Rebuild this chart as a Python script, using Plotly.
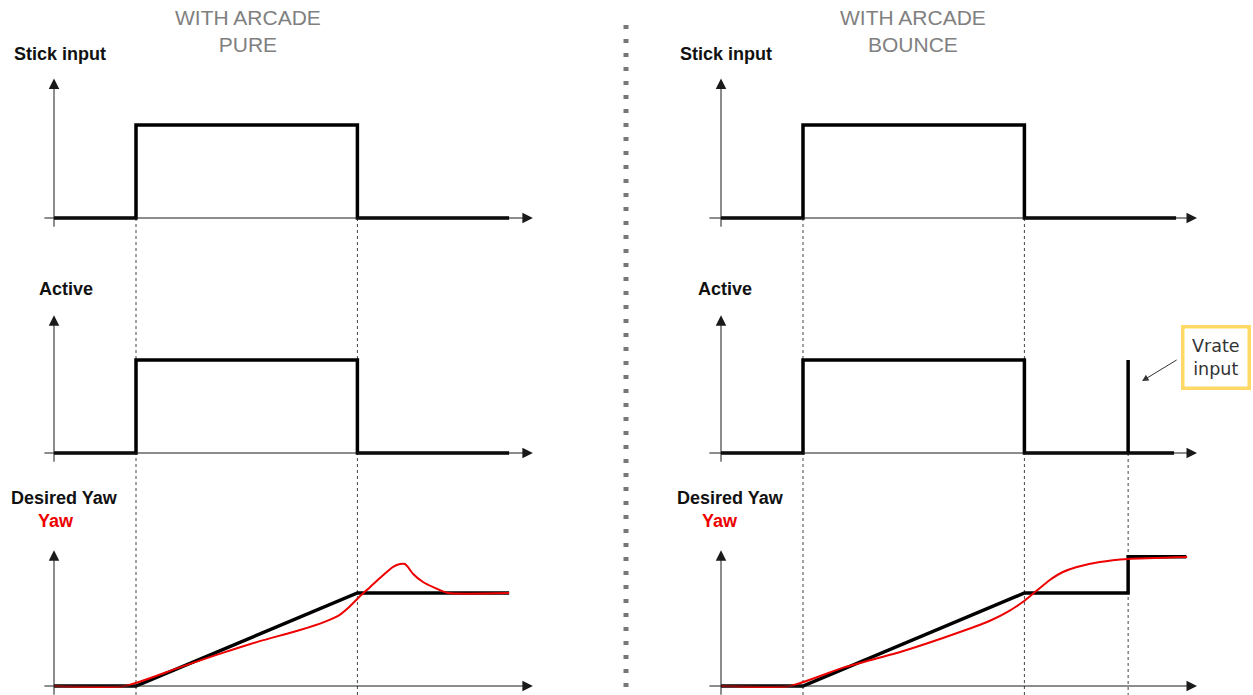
# Arcade yaw diagram: stick input / active / desired yaw, pure vs bounce

import plotly.graph_objects as go

# ---- data (time in arbitrary units, signal values normalised) ----

stick_t = [0.0, 2.0, 2.0, 7.4, 7.4, 11.1]
stick_v = [0, 0, 1, 1, 0, 0]

active_pure_t = [0.0, 2.0, 2.0, 7.4, 7.4, 11.1]
active_pure_v = [0, 0, 1, 1, 0, 0]

active_bounce_t = [0.0, 2.0, 2.0, 7.4, 7.4, 9.93, 9.93, 9.93, 11.05]
active_bounce_v = [0, 0, 1, 1, 0, 0, 1, 0, 0]

desired_pure_t = [0.0, 2.0, 7.4, 11.1]
desired_pure_v = [0, 0, 1, 1]

yaw_pure_t = [0.0, 1.73, 3.0, 4.0, 5.0, 6.0, 6.6, 6.95, 7.2, 7.45, 7.7, 7.95, 8.27, 8.44,
              8.56, 8.63, 8.76, 9.0, 9.24, 9.61, 11.1]
yaw_pure_v = [0, 0, 0.19, 0.34, 0.48, 0.602, 0.69, 0.76, 0.85, 0.96, 1.06, 1.161, 1.28,
              1.312, 1.312, 1.28, 1.204, 1.118, 1.065, 1.0, 1.0]

desired_bounce_t = [0.0, 2.0, 7.4, 9.93, 9.93, 11.35]
desired_bounce_v = [0, 0, 1, 1, 1.39, 1.39]

yaw_bounce_t = [0.0, 1.68, 3.0, 4.37, 5.83, 6.6, 7.0, 7.35, 7.66, 8.02, 8.34, 8.68,
                9.24, 9.93, 11.37]
yaw_bounce_v = [0, 0, 0.2, 0.366, 0.581, 0.71, 0.8, 0.9, 1.011, 1.14, 1.226, 1.28,
                1.333, 1.366, 1.387]

event_times_pure = [2.0, 7.4]
event_times_bounce = [2.0, 7.4]
vrate_time = 9.93

col_titles = ['WITH ARCADE<br>PURE', 'WITH ARCADE<br>BOUNCE']
row_labels = ['Stick input', 'Active', 'Desired Yaw']

# ---- page geometry ----

W, H = 1253, 695
PX_T = 41.0                 # pixels per time unit
PX_V = 93.0                 # pixels per value unit
COL_X0 = [54, 721]          # pixel of time origin per column
ROW_Y0 = [218, 453, 686]    # pixel of zero line per row
T_RANGE = [-0.6, 12.3]
V_RANGE = [-0.095, 1.75]

X_AXIS_START = [-0.27, -0.32]
X_AXIS_END = [11.68, 11.61]
Y_AXIS_TOP = [1.5, 1.48, 1.46]
Y_AXIS_BOTTOM = -0.11


def xdom(col):
    x0 = COL_X0[col]
    return [(x0 + T_RANGE[0] * PX_T) / W, (x0 + T_RANGE[1] * PX_T) / W]


def ydom(row):
    y0 = ROW_Y0[row]
    bottom = y0 - V_RANGE[0] * PX_V
    top = y0 - V_RANGE[1] * PX_V
    return [1 - bottom / H, 1 - top / H]


def px(x):
    return x / W


def py(y):
    return 1 - y / H


def names(row, col):
    k = row * 2 + col + 1
    s = '' if k == 1 else str(k)
    return 'x' + s, 'y' + s, 'xaxis' + s, 'yaxis' + s


fig = go.Figure()
layout_axes = {}
annotations = []
shapes = []

for row in range(3):
    for col in range(2):
        xn, yn, xa, ya = names(row, col)
        layout_axes[xa] = dict(domain=xdom(col), range=T_RANGE, visible=False,
                               fixedrange=True, anchor=yn)
        layout_axes[ya] = dict(domain=ydom(row), range=V_RANGE, visible=False,
                               fixedrange=True, anchor=xn)
        # x axis arrow
        annotations.append(dict(
            x=X_AXIS_END[col], y=0, ax=X_AXIS_START[col], ay=0,
            xref=xn, yref=yn, axref=xn, ayref=yn, text='', showarrow=True,
            arrowhead=2, arrowsize=2.1, arrowwidth=1, arrowcolor='#1a1a1a'))
        # y axis arrow
        annotations.append(dict(
            x=0, y=Y_AXIS_TOP[row], ax=0, ay=Y_AXIS_BOTTOM,
            xref=xn, yref=yn, axref=xn, ayref=yn, text='', showarrow=True,
            arrowhead=2, arrowsize=2.1, arrowwidth=1, arrowcolor='#1a1a1a'))

fig.update_layout(**layout_axes)

black = dict(color='black', width=3.5)
red = dict(color='#ee0000', width=2, shape='spline', smoothing=0.5)

series = [
    (0, 0, stick_t, stick_v, black),
    (0, 1, stick_t, stick_v, black),
    (1, 0, active_pure_t, active_pure_v, black),
    (1, 1, active_bounce_t, active_bounce_v, black),
    (2, 0, desired_pure_t, desired_pure_v, black),
    (2, 0, yaw_pure_t, yaw_pure_v, red),
    (2, 1, desired_bounce_t, desired_bounce_v, black),
    (2, 1, yaw_bounce_t, yaw_bounce_v, red),
]

for row, col, t, v, line in series:
    xn, yn, _, _ = names(row, col)
    fig.add_trace(go.Scatter(x=t, y=v, mode='lines', line=line,
                             xaxis=xn, yaxis=yn, hoverinfo='skip',
                             showlegend=False))

# dashed event lines
for col, times in enumerate([event_times_pure, event_times_bounce]):
    xn = names(0, col)[0]
    for t in times:
        shapes.append(dict(type='line', xref=xn, yref='paper', x0=t, x1=t,
                           y0=py(ROW_Y0[0]), y1=0, layer='below',
                           line=dict(color='#444', width=1, dash='3px,3px')))
shapes.append(dict(type='line', xref='x2', yref='paper', x0=vrate_time, x1=vrate_time,
                   y0=py(ROW_Y0[1]), y1=0, layer='below',
                   line=dict(color='#444', width=1, dash='3px,3px')))

# dotted divider between the two columns
shapes.append(dict(type='line', xref='paper', yref='paper', x0=px(626), x1=px(626),
                   y0=py(25), y1=0, line=dict(color='#777', width=5, dash='4px,10px')))

# column titles
for col, title in enumerate(col_titles):
    annotations.append(dict(
        text=title, xref='paper', yref='paper', x=px([248, 913][col]), y=py(31),
        xanchor='center', yanchor='middle', showarrow=False,
        font=dict(family='Liberation Sans, Arial', size=21, color='#808080')))

# row labels
label_x = [[13, 38, 10], [679, 697, 676]]
label_y = [54, 289, 498]
bold = dict(family='Liberation Sans, Arial', size=18, color='#111')
for col in range(2):
    for row, lab in enumerate(row_labels):
        annotations.append(dict(
            text='<b>' + lab + '</b>', xref='paper', yref='paper',
            x=px(label_x[col][row]), y=py(label_y[row]), xanchor='left',
            yanchor='middle', showarrow=False, font=bold, borderpad=0))
    annotations.append(dict(
        text='<b>Yaw</b>', xref='paper', yref='paper', x=px([37, 701][col]),
        y=py(521), xanchor='left', yanchor='middle', showarrow=False, borderpad=0,
        font=dict(family='Liberation Sans, Arial', size=18, color='#ee0000')))

# Vrate callout
annotations.append(dict(
    text='Vrate<br>input', xref='paper', yref='paper', x=px(1215.5), y=py(357.5),
    xanchor='center', yanchor='middle', showarrow=False, align='center',
    font=dict(family='DejaVu Sans', size=17.5, color='#333'),
    bgcolor='white', bordercolor='#FFD966', borderwidth=3.5, borderpad=7.5))
annotations.append(dict(
    x=10.27, y=0.774, ax=11.15, ay=1.01, xref='x4', yref='y4', axref='x4', ayref='y4',
    text='', showarrow=True, arrowhead=2, arrowsize=1.3, arrowwidth=1,
    arrowcolor='#333'))

fig.update_layout(
    width=W, height=H,
    margin=dict(l=0, r=0, t=0, b=0, pad=0),
    paper_bgcolor='white', plot_bgcolor='white',
    showlegend=False,
    annotations=annotations,
    shapes=shapes,
)

# page has a default 8px body margin; drop it so the figure fills the window
fig.write_html('out.html', config={'displayModeBar': False},
               post_script="document.body.style.margin='0';"
                           "document.body.style.overflow='hidden';")
